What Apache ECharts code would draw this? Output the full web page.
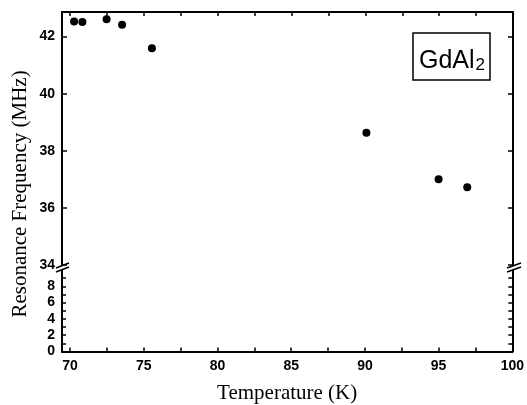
<!DOCTYPE html>
<html>
<head>
<meta charset="utf-8">
<script src="https://cdn.jsdelivr.net/npm/echarts@6/dist/echarts.min.js"></script>
<style>html,body{margin:0;padding:0;background:#fff}#c{width:527px;height:405px}</style>
</head>
<body>
<div id="c"></div>
<script>
// Data
const temperatures = [70.27, 70.83, 72.47, 73.52, 75.54, 90.07, 94.96, 96.9];
const frequencies  = [42.53, 42.51, 42.61, 42.41, 41.59, 38.63, 37.0, 36.72];

// Axis ticks / labels
const xLabelValues = [70, 75, 80, 85, 90, 95, 100];
const xTickValues = [70, 72.5, 75, 77.5, 80, 82.5, 85, 87.5, 90, 92.5, 95, 97.5, 100];
const upperYLabels = [34, 36, 38, 40, 42];
const upperYTicks = [34, 36, 38, 40, 42];
const lowerYLabels = [0, 2, 4, 6, 8];
const lowerYTicks = [1, 2, 3, 4, 5, 6, 7, 8, 9];

const xMin = 69.45, xMax = 100;
const upperMin = 34, upperMax = 42.86;
const lowerMin = 0, lowerMax = 10;

const chart = echarts.init(document.getElementById('c'), null, {renderer: 'canvas'});
const axisLine = {show: true, onZero: false, lineStyle: {color: '#000', width: 2}};
const labelStyle = {color: '#000', fontFamily: 'Liberation Sans, Arial, sans-serif', fontWeight: 'bold', fontSize: 14};
const tick = (vals, len) => ({show: true, inside: true, length: len, customValues: vals, lineStyle: {color: '#000', width: 1.5}});

const points = temperatures.map((t, i) => [t, frequencies[i]]);

chart.setOption({
  animation: false,
  backgroundColor: '#fff',
  title: {
    text: '{m|GdAl}{s|2}',
    left: 413, top: 40,
    borderColor: '#000', borderWidth: 1.5,
    padding: [9, 5, 6, 6],
    textStyle: {
      fontWeight: 'normal',
      rich: {
        m: {fontFamily: 'Liberation Sans, Arial, sans-serif', fontWeight: 'normal', fontSize: 25, color: '#000', lineHeight: 25, verticalAlign: 'top'},
        s: {fontFamily: 'Liberation Sans, Arial, sans-serif', fontWeight: 'normal', fontSize: 17, color: '#000', lineHeight: 17, verticalAlign: 'bottom', padding: [15, 0, 0, 1]}
      }
    }
  },
  grid: [
    {left: 62, right: 14, top: 12, height: 253},
    {left: 62, right: 14, top: 270, height: 81.5}
  ],
  xAxis: [
    {gridIndex: 0, type: 'value', position: 'top', min: xMin, max: xMax,
     axisLine: axisLine, axisTick: tick(xTickValues, 4), axisLabel: {show: false}, splitLine: {show: false}},
    {gridIndex: 1, type: 'value', position: 'bottom', min: xMin, max: xMax,
     axisLine: axisLine, axisTick: tick(xTickValues, 4),
     axisLabel: Object.assign({show: true, margin: 8, customValues: xLabelValues}, labelStyle),
     splitLine: {show: false},
     name: 'Temperature (K)', nameLocation: 'middle', nameGap: 31,
     nameTextStyle: {fontFamily: 'Liberation Serif, Times New Roman, serif', fontSize: 21, color: '#000', verticalAlign: 'top'}}
  ],
  yAxis: [
    {gridIndex: 0, type: 'value', position: 'left', min: upperMin, max: upperMax,
     axisLine: axisLine, axisTick: tick(upperYTicks, 5),
     axisLabel: Object.assign({show: true, margin: 7, customValues: upperYLabels}, labelStyle),
     splitLine: {show: false}},
    {gridIndex: 0, type: 'value', position: 'right', min: upperMin, max: upperMax,
     axisLine: axisLine, axisTick: tick(upperYTicks, 5), axisLabel: {show: false}, splitLine: {show: false}},
    {gridIndex: 1, type: 'value', position: 'left', min: lowerMin, max: lowerMax,
     axisLine: axisLine, axisTick: tick(lowerYTicks, 4),
     axisLabel: Object.assign({show: true, margin: 7, customValues: lowerYLabels}, labelStyle),
     splitLine: {show: false}},
    {gridIndex: 1, type: 'value', position: 'right', min: lowerMin, max: lowerMax,
     axisLine: axisLine, axisTick: tick(lowerYTicks, 4), axisLabel: {show: false}, splitLine: {show: false}}
  ],
  series: [{
    type: 'scatter', xAxisIndex: 0, yAxisIndex: 0,
    data: points, symbol: 'circle', symbolSize: 8,
    itemStyle: {color: '#000', opacity: 1}
  }],
  graphic: [
    {type: 'text', x: 20, y: 194, rotation: Math.PI / 2,
     style: {text: 'Resonance Frequency (MHz)', fill: '#000', fontFamily: 'Liberation Serif, Times New Roman, serif', fontSize: 21, align: 'center', verticalAlign: 'middle'}},
    // axis-break markers
    {type: 'line', shape: {x1: 56, y1: 268, x2: 69, y2: 263}, style: {stroke: '#000', lineWidth: 1.5}},
    {type: 'line', shape: {x1: 56, y1: 272, x2: 69, y2: 267}, style: {stroke: '#000', lineWidth: 1.5}},
    {type: 'line', shape: {x1: 507, y1: 268, x2: 521, y2: 263}, style: {stroke: '#000', lineWidth: 1.5}},
    {type: 'line', shape: {x1: 507, y1: 272, x2: 521, y2: 267}, style: {stroke: '#000', lineWidth: 1.5}}
  ]
});
</script>
</body>
</html>
